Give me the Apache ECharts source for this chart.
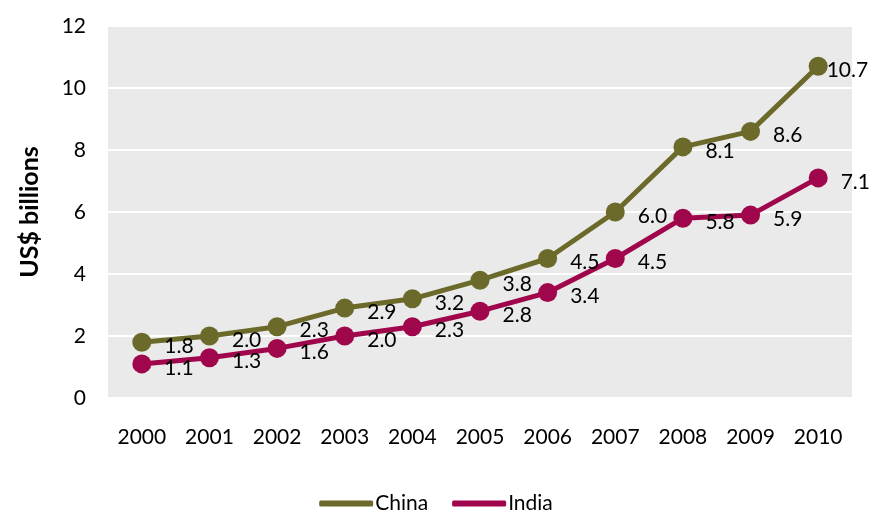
<!DOCTYPE html>
<html>
<head>
<meta charset="utf-8">
<script src="https://cdn.jsdelivr.net/npm/echarts@6/dist/echarts.min.js"></script>
<style>
  html, body { margin: 0; padding: 0; background: #fff; }
  #chart { width: 872px; height: 512px; }
</style>
</head>
<body>
<div id="chart"></div>
<script>
const years = ['2000', '2001', '2002', '2003', '2004', '2005', '2006', '2007', '2008', '2009', '2010'];
const china = [1.8, 2.0, 2.3, 2.9, 3.2, 3.8, 4.5, 6.0, 8.1, 8.6, 10.7];
const india = [1.1, 1.3, 1.6, 2.0, 2.3, 2.8, 3.4, 4.5, 5.8, 5.9, 7.1];
const yTicks = [0, 2, 4, 6, 8, 10, 12];

const font = 'Lato, "Open Sans", sans-serif';

function labelled(values) {
  return values.map((v, i) => {
    // last China point sits at the right edge, label pulled in
    if (values === china && i === values.length - 1) {
      return { value: v, label: { offset: [-6, 4] } };
    }
    return v;
  });
}

const chart = echarts.init(document.getElementById('chart'));
chart.setOption({
  animation: false,
  grid: {
    left: 108, right: 20, top: 26, bottom: 114,
    show: true, backgroundColor: '#eaeaea', borderWidth: 0
  },
  legend: {
    top: 488,
    left: 'center',
    itemWidth: 54,
    itemHeight: 6,
    itemGap: 24,
    icon: 'roundRect',
    textStyle: { fontFamily: font, fontSize: 21, color: '#000', padding: [0, 0, 0, -3] },
    data: ['China', 'India']
  },
  xAxis: {
    type: 'category',
    data: years,
    boundaryGap: true,
    axisLine: { show: false },
    axisTick: { show: false },
    axisLabel: { fontFamily: font, fontSize: 21, color: '#000', margin: 29 }
  },
  yAxis: {
    type: 'value',
    min: yTicks[0],
    max: yTicks[yTicks.length - 1],
    interval: 2,
    name: 'US$ billions',
    nameLocation: 'middle',
    nameGap: 66,
    nameRotate: 90,
    nameTextStyle: { fontFamily: font, fontSize: 25, fontWeight: 'bold', color: '#000' },
    axisLine: { show: false },
    axisTick: { show: false },
    axisLabel: { fontFamily: font, fontSize: 21, color: '#000', margin: 22 },
    splitLine: { lineStyle: { color: '#ffffff', width: 2 } }
  },
  series: [
    {
      name: 'China',
      type: 'line',
      data: labelled(china),
      color: '#6b6a2a',
      symbol: 'circle',
      symbolSize: 19,
      lineStyle: { width: 5 },
      label: {
        show: true, position: 'right', distance: 5, offset: [8, 4],
        formatter: p => p.value.toFixed(1),
        fontFamily: font, fontSize: 21, color: '#000'
      }
    },
    {
      name: 'India',
      type: 'line',
      data: india,
      color: '#a0064c',
      symbol: 'circle',
      symbolSize: 19,
      lineStyle: { width: 5 },
      label: {
        show: true, position: 'right', distance: 5, offset: [8, 4],
        formatter: p => p.value.toFixed(1),
        fontFamily: font, fontSize: 21, color: '#000'
      }
    }
  ]
});
</script>
</body>
</html>
